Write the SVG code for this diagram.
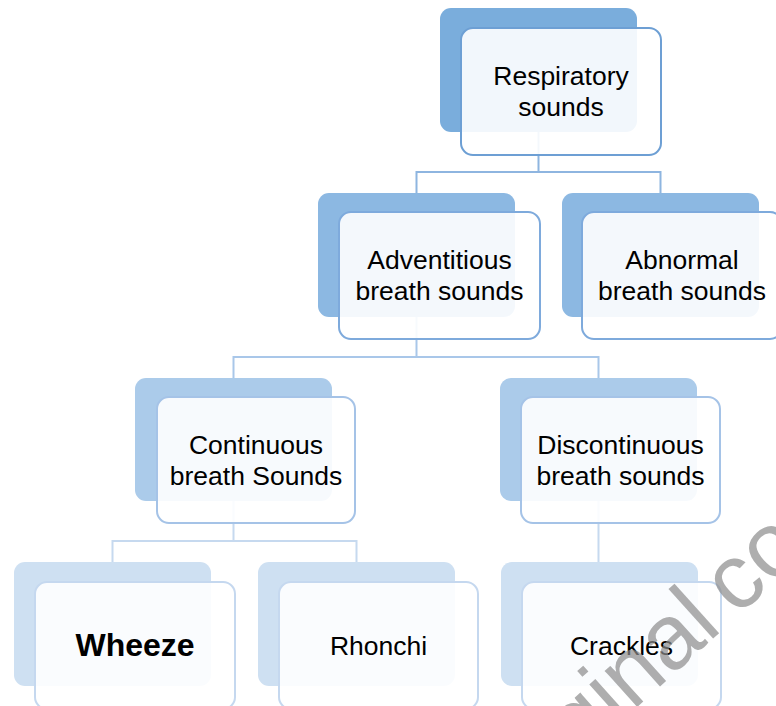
<svg xmlns="http://www.w3.org/2000/svg" width="776" height="706" viewBox="0 0 776 706">
<style>
.t{font-family:"Liberation Sans",Arial,sans-serif;font-size:26.5px;fill:#000;text-anchor:middle}
.b1{fill:#7aaddc}.b2{fill:#8cb8e2}.b3{fill:#abcbea}.b4{fill:#cee0f2}
.f{fill:#fff;fill-opacity:0.9;stroke-width:2}
.f1{stroke:#6d9fd4}.f2{stroke:#7eaadc}.f3{stroke:#a5c3e7}.f4{stroke:#c5d8ef}
.c{fill:none;stroke-width:2}
.wm{font-family:"Liberation Sans",Arial,sans-serif;font-size:92px;fill:#8c8c8c;fill-opacity:0.7}
</style>
<rect width="776" height="706" fill="#fff"/>
<g id="connectors">
<path class="c" stroke="#8eb5e0" d="M538.5 132V172M416.5 193V172H660.5V193"/>
<path class="c" stroke="#a9c7e9" d="M416.5 317V357M233.5 378V357H598.5V378"/>
<path class="c" stroke="#c6d9ef" d="M233.5 501V541M112.5 562V541H356.5V562M598.5 501V562"/>
</g>
<g id="respiratory">
<rect class="b1" x="440" y="8" width="197" height="124" rx="11"/>
<rect class="f f1" x="461" y="28" width="200" height="127" rx="12"/>
<text class="t" x="561" y="85">Respiratory</text>
<text class="t" x="561" y="116">sounds</text>
</g>
<g id="adventitious">
<rect class="b2" x="318" y="193" width="197" height="124" rx="11"/>
<rect class="f f2" x="339" y="212" width="201" height="127" rx="12"/>
<text class="t" x="439.5" y="269">Adventitious</text>
<text class="t" x="439.5" y="300">breath sounds</text>
</g>
<g id="abnormal">
<rect class="b2" x="562" y="193" width="197" height="124" rx="11"/>
<rect class="f f2" x="582" y="212" width="200" height="127" rx="12"/>
<text class="t" x="682" y="269">Abnormal</text>
<text class="t" x="682" y="300">breath sounds</text>
</g>
<g id="continuous">
<rect class="b3" x="135" y="378" width="197" height="123" rx="11"/>
<rect class="f f3" x="157" y="397" width="198" height="126" rx="12"/>
<text class="t" x="256" y="453.5">Continuous</text>
<text class="t" x="256" y="484.5">breath Sounds</text>
</g>
<g id="discontinuous">
<rect class="b3" x="500" y="378" width="197" height="123" rx="11"/>
<rect class="f f3" x="521" y="397" width="199" height="126" rx="12"/>
<text class="t" x="620.5" y="453.5">Discontinuous</text>
<text class="t" x="620.5" y="484.5">breath sounds</text>
</g>
<g id="wheeze">
<rect class="b4" x="14" y="562" width="197" height="124" rx="11"/>
<rect class="f f4" x="35" y="582" width="200" height="127" rx="12"/>
<text class="t" x="135" y="656" style="font-size:32px;font-weight:bold">Wheeze</text>
</g>
<g id="rhonchi">
<rect class="b4" x="258" y="562" width="197" height="124" rx="11"/>
<rect class="f f4" x="279" y="582" width="199" height="127" rx="12"/>
<text class="t" x="378.5" y="655">Rhonchi</text>
</g>
<g id="crackles">
<rect class="b4" x="501" y="562" width="197" height="124" rx="11"/>
<rect class="f f4" x="522" y="582" width="199" height="127" rx="12"/>
<text class="t" x="621.5" y="655">Crackles</text>
</g>
<text class="wm" transform="translate(503.3,827.5) rotate(-42)" word-spacing="-8">original copy</text>
</svg>
